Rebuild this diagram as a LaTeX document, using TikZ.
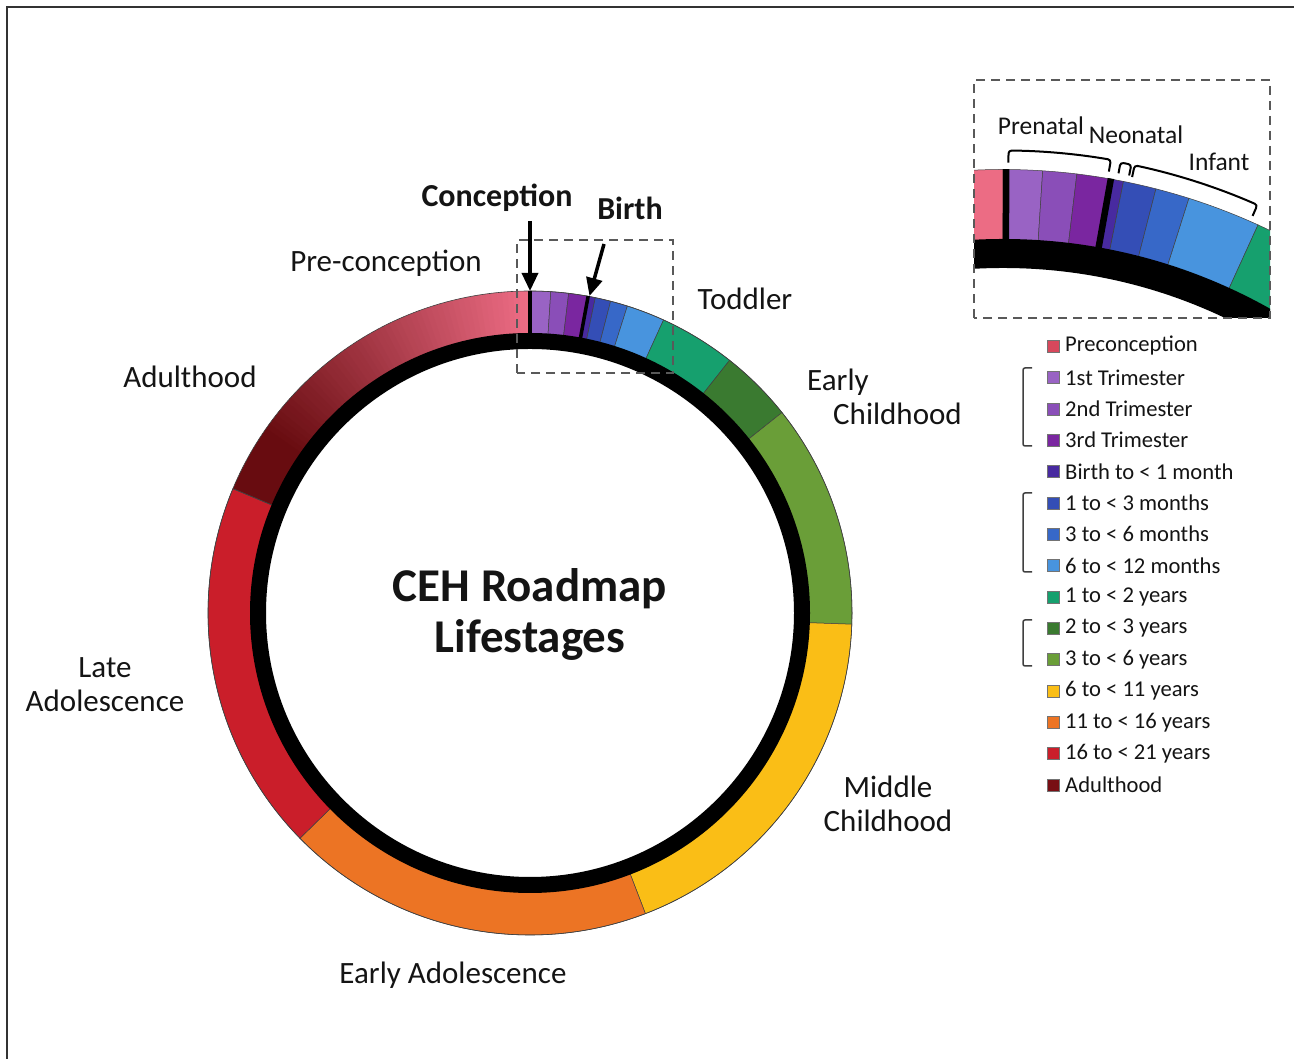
\documentclass[tikz,border=0pt]{standalone}
\usepackage{fontspec}
\setmainfont{Carlito}
\usetikzlibrary{arrows.meta}
\definecolor{pinkc}{RGB}{236,108,132}
\definecolor{maroonc}{RGB}{104,12,16}
\definecolor{tri1}{RGB}{153,99,196}
\definecolor{tri2}{RGB}{138,78,184}
\definecolor{tri3}{RGB}{122,38,160}
\definecolor{b1m}{RGB}{72,42,160}
\definecolor{m13}{RGB}{52,78,182}
\definecolor{m36}{RGB}{55,104,200}
\definecolor{m612}{RGB}{72,148,222}
\definecolor{y12}{RGB}{22,160,110}
\definecolor{y23}{RGB}{58,122,48}
\definecolor{y36}{RGB}{106,158,56}
\definecolor{y611}{RGB}{250,190,22}
\definecolor{y1116}{RGB}{236,116,36}
\definecolor{y1621}{RGB}{202,30,42}
\definecolor{adultc}{RGB}{120,14,20}
\definecolor{legpre}{RGB}{215,72,92}
\definecolor{txt}{RGB}{20,20,20}
% ring segment: center, r_in, r_out, angle a, angle b, colour
\newcommand\ringseg[6]{%
  \filldraw[fill=#6, draw=black!75, line width=0.5pt, shift={(#1)}]
    (#4:#3) arc[start angle=#4, end angle=#5, radius=#3] --
    (#5:#2) arc[start angle=#5, end angle=#4, radius=#2] -- cycle;}
\newcommand\ringfill[6]{%
  \fill[#6, shift={(#1)}]
    (#4:#3) arc[start angle=#4, end angle=#5, radius=#3] --
    (#5:#2) arc[start angle=#5, end angle=#4, radius=#2] -- cycle;}
\begin{document}
\begin{tikzpicture}[x=1pt,y=1pt,
  lbl/.style={inner sep=0pt, text=txt, font=\fontsize{31}{34}\selectfont},
  blbl/.style={inner sep=0pt, text=txt, font=\fontsize{32}{36}\selectfont\bfseries},
  ilbl/.style={inner sep=0pt, text=txt, font=\fontsize{25.5}{28}\selectfont},
  legtxt/.style={inner sep=0pt, anchor=west, text=txt, font=\fontsize{22.6}{26}\selectfont},
  legbox/.style={draw=black!55, line width=0.4pt, minimum size=12pt, inner sep=0pt},
  arr/.style={line width=3.5pt, draw=black, -{Triangle[length=18pt,width=16pt]}},
  dbox/.style={draw=black!65, line width=2.2pt, dash pattern=on 9pt off 6pt},
  brk/.style={draw=black, line width=2pt, rounded corners=3pt},
  lbrk/.style={draw=black!75, line width=1.5pt, rounded corners=2pt},
  bar/.style={line width=3.5pt, draw=black},
  ibar/.style={line width=6.5pt, draw=black}]
\useasboundingbox (0,0) rectangle (1294,1059);
\fill[white] (0,0) rectangle (1294,1059);
% frame
\draw[black!80, line width=2pt] (7,0) -- (7,1052) -- (1294,1052);

% ===== main ring =====
\coordinate (C) at (530,446);
\foreach \i in {0,...,67} {
  \pgfmathsetmacro\aa{90+\i}
  \pgfmathsetmacro\bb{min(90+\i+1.4,157.3)}
  \pgfmathtruncatemacro\tt{min(100,100*\i/55)}
  \ringfill{C}{279}{322}{\aa}{\bb}{maroonc!\tt!pinkc}
}
\ringseg{C}{279}{322}{86.3}{90}{tri1}
\ringseg{C}{279}{322}{83.1}{86.3}{tri2}
\ringseg{C}{279}{322}{79.6}{83.1}{tri3}
\ringseg{C}{279}{322}{78.3}{79.6}{b1m}
\ringseg{C}{279}{322}{75.5}{78.3}{m13}
\ringseg{C}{279}{322}{72.4}{75.5}{m36}
\ringseg{C}{279}{322}{65.5}{72.4}{m612}
\ringseg{C}{279}{322}{51.7}{65.5}{y12}
\ringseg{C}{279}{322}{38.5}{51.7}{y23}
\ringseg{C}{279}{322}{-2}{38.5}{y36}
\ringseg{C}{279}{322}{-69}{-2}{y611}
\ringseg{C}{279}{322}{-135.6}{-69}{y1116}
\ringseg{C}{279}{322}{-202.7}{-135.6}{y1621}
\draw[black!75, line width=0.6pt, shift={(C)}] (157.3:279) -- (157.3:322);
\draw[black!75, line width=0.6pt] (C) circle[radius=322];
\fill[black, even odd rule] (C) circle[radius=280] (C) circle[radius=264];
\draw[bar, shift={(C)}] (90:266) -- (90:322.3);
\draw[bar, shift={(C)}] (79.6:266) -- (79.6:322.3);

% centre title
\node[inner sep=0pt, text=txt, font=\fontsize{47}{51}\selectfont\bfseries, align=center] (title) at (530,444) {CEH Roadmap\\Lifestages};

% labels around ring
\node[blbl] (conc) at (497,861) {Conception};
\node[blbl] (birth) at (630,851) {Birth};
\node[lbl] (precon) at (386,796) {Pre-conception};
\node[lbl] (todd) at (745,760) {Toddler};
\node[lbl, align=left] (earlych) at (884.5,662.5) {Early\\\hspace*{26pt}Childhood};
\node[lbl] (adult) at (190,682) {Adulthood};
\node[lbl, align=center] (lateado) at (105,374) {Late\\Adolescence};
\node[lbl, align=center] (midch) at (888,255) {Middle\\Childhood};
\node[lbl] (earlyado) at (453,84) {Early Adolescence};

% arrows
\coordinate (concS) at (530,838);
\coordinate (concT) at (530,768);
\coordinate (birthS) at (604,815);
\coordinate (birthT) at (589.5,763);
\draw[arr] (concS) -- (concT);
\draw[arr] (birthS) -- (birthT);

% main dashed box
\draw[dbox] (517,686) rectangle (673,819);

% ===== inset =====
\coordinate (IC) at (1003,274.5);
\begin{scope}
\clip (974,741) rectangle (1270,979);
\ringseg{IC}{544.5}{615}{90}{100}{pinkc}
\ringseg{IC}{544.5}{615}{86.3}{90}{tri1}
\ringseg{IC}{544.5}{615}{83.1}{86.3}{tri2}
\ringseg{IC}{544.5}{615}{79.9}{83.1}{tri3}
\ringseg{IC}{544.5}{615}{78.7}{79.9}{b1m}
\ringseg{IC}{544.5}{615}{75.6}{78.7}{m13}
\ringseg{IC}{544.5}{615}{72.4}{75.6}{m36}
\ringseg{IC}{544.5}{615}{65.5}{72.4}{m612}
\ringseg{IC}{544.5}{615}{51.7}{65.5}{y12}
\fill[black, even odd rule] (IC) circle[radius=545.5] (IC) circle[radius=516.5];
\draw[ibar, shift={(IC)}] (89.7:518) -- (89.7:615.5);
\draw[ibar, shift={(IC)}] (79.9:518) -- (79.9:615.5);
\end{scope}
\draw[dbox] (974,741) rectangle (1270,979);
% inset brackets
\draw[brk, shift={(IC)}] (89.5:622) -- (89.5:634) arc[start angle=89.5, end angle=80.2, radius=634] -- (80.2:622);
\draw[brk, shift={(IC)}] (79.3:622) -- (79.3:633) arc[start angle=79.3, end angle=78.3, radius=633] -- (78.3:622);
\draw[brk, shift={(IC)}] (78.0:621) -- (78.0:633) arc[start angle=78.0, end angle=66.3, radius=633] -- (66.3:621);
\node[ilbl] (prenatal) at (1041,933) {Prenatal};
\node[ilbl] (neonatal) at (1136,924) {Neonatal};
\node[ilbl] (infant) at (1219,897) {Infant};

% ===== legend =====
\foreach \t/\c [count=\k] in {Preconception/legpre, 1st Trimester/tri1, 2nd Trimester/tri2, 3rd Trimester/tri3, Birth to < 1 month/b1m, 1 to < 3 months/m13, 3 to < 6 months/m36, 6 to < 12 months/m612, 1 to < 2 years/y12, 2 to < 3 years/y23, 3 to < 6 years/y36, 6 to < 11 years/y611, 11 to < 16 years/y1116, 16 to < 21 years/y1621, Adulthood/adultc} {
  \pgfmathsetmacro\yy{713-(\k-1)*31.36}
  \node[legbox, fill=\c] (lb\k) at (1053.5,\yy) {};
  \node[legtxt] (lt\k) at (1065,\yy) {\t};
}
\draw[lbrk] (1032,691) -- (1023,691) -- (1023,613) -- (1032,613);
\draw[lbrk] (1032,566) -- (1023,566) -- (1023,487) -- (1032,487);
\draw[lbrk] (1032,439) -- (1023,439) -- (1023,393) -- (1032,393);
\end{tikzpicture}
\end{document}
